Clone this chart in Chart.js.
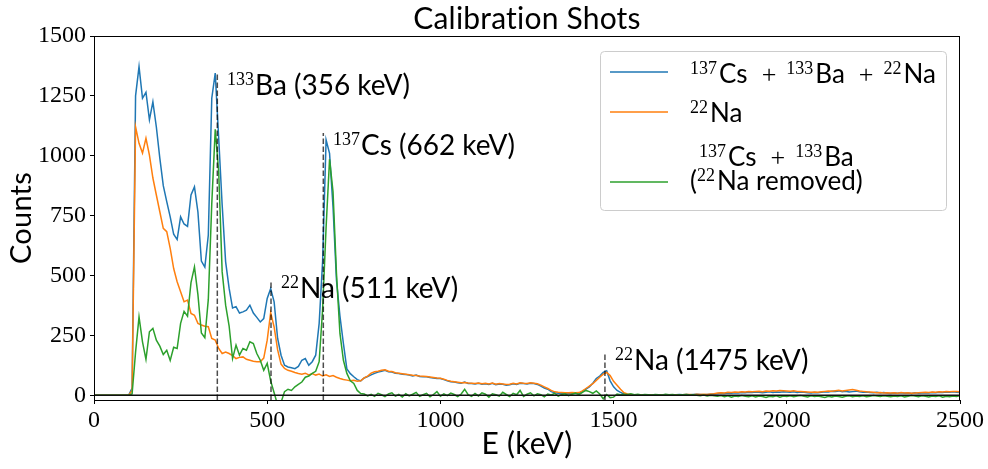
<!DOCTYPE html>
<html>
<head>
<meta charset="utf-8">
<script src="https://cdn.jsdelivr.net/npm/chart.js@4.4.0/dist/chart.umd.min.js"></script>
<style>html,body{margin:0;padding:0;background:#fff}</style>
</head>
<body>
<canvas id="c" width="988" height="469"></canvas>
<script>
// spectrum, 10 keV bins starting at 0 keV
const binWidth = 10;

// 137Cs + 133Ba + 22Na
const mixed = [
  0, 0, 0, 0, 0, 0, 0, 0, 0, 0,
  0, 30, 1250, 1372, 1240, 1265, 1150, 1225, 1120, 990,
  875, 808, 745, 672, 650, 745, 715, 705, 836, 870,
  765, 560, 535, 669, 1240, 1345, 1073, 794, 557, 447,
  364, 370, 343, 348, 355, 376, 343, 325, 306, 320,
  404, 445, 390, 238, 167, 125, 118, 115, 111, 120,
  146, 153, 125, 140, 167, 300, 560, 1066, 1010, 787,
  480, 330, 216, 110, 90, 77, 65, 60, 72, 78,
  85, 91, 97, 100, 104, 98, 97, 92, 91, 88,
  86, 84, 80, 84, 78, 77, 77, 74, 72, 70,
  70, 65, 60, 56, 55, 52, 50, 55, 49, 49,
  47, 50, 46, 48, 45, 50, 44, 47, 46, 42,
  44, 48, 45, 50, 49, 47, 50, 49, 45, 38,
  30, 25, 15, 10, 8, 7, 7, 6, 7, 7,
  7, 15, 25, 35, 50, 70, 80, 95, 102, 60,
  35, 20, 12, 5, 3, 2, 2, 1, 2, 1,
  1, 2, 1, 1, 2, 1, 2, 1, 2, 3,
  2, 3, 2, 3, 4, 3, 2, 3, 4, 5,
  6, 8, 7, 9, 8, 10, 9, 11, 10, 12,
  11, 13, 12, 10, 12, 14, 11, 13, 12, 14,
  13, 12, 14, 11, 13, 12, 10, 9, 11, 10,
  12, 14, 13, 16, 15, 18, 14, 16, 13, 15,
  17, 14, 12, 13, 11, 10, 12, 9, 11, 8,
  7, 9, 8, 10, 8, 9, 7, 10, 8, 9,
  10, 9, 11, 10, 12, 11, 13, 12, 14, 12,
  11
];

// 22Na only
const na22 = [
  0, 0, 0, 0, 0, 0, 0, 0, 0, 0,
  0, 20, 1121, 1052, 1011, 1073, 1003, 907, 836, 766,
  697, 683, 613, 529, 474, 432, 390, 397, 341, 334,
  300, 293, 288, 286, 237, 230, 195, 174, 180, 174,
  165, 153, 158, 160, 150, 146, 142, 140, 140, 155,
  230, 345, 285, 190, 130, 112, 104, 100, 95, 91,
  88, 92, 85, 90, 84, 88, 80, 85, 78, 82,
  75, 70, 66, 63, 60, 62, 58, 60, 72, 80,
  92, 98, 100, 104, 106, 100, 99, 94, 92, 90,
  88, 85, 83, 82, 80, 79, 78, 76, 74, 72,
  71, 67, 62, 58, 56, 54, 52, 53, 51, 50,
  49, 51, 48, 50, 47, 51, 46, 49, 47, 45,
  46, 50, 47, 52, 50, 49, 52, 50, 48, 42,
  35, 28, 20, 14, 12, 11, 10, 10, 11, 10,
  11, 18, 28, 38, 48, 62, 75, 88, 95, 82,
  58, 42, 25, 10, 5, 3, 2, 2, 2, 2,
  2, 1, 2, 2, 1, 2, 2, 1, 2, 2,
  2, 3, 3, 2, 4, 3, 4, 3, 5, 6,
  9, 10, 9, 12, 11, 13, 12, 14, 13, 15,
  14, 16, 17, 15, 18, 17, 19, 18, 20, 19,
  18, 17, 19, 16, 15, 14, 13, 12, 13, 12,
  14, 16, 18, 17, 19, 21, 18, 20, 22, 24,
  21, 18, 16, 14, 13, 12, 10, 11, 9, 10,
  9, 10, 8, 11, 9, 10, 8, 9, 10, 11,
  12, 11, 13, 12, 14, 13, 15, 14, 16, 15,
  14
];

// 137Cs + 133Ba (22Na removed)
const csBa = [
  0, 0, 0, 0, 0, 0, 0, 0, 0, 0,
  0, 5, 180, 327, 223, 150, 265, 279, 230, 205,
  170, 188, 145, 200, 195, 300, 350, 330, 470, 536,
  420, 260, 240, 400, 800, 1110, 933, 515, 376, 290,
  153, 209, 167, 195, 188, 223, 216, 174, 146, 104,
  133, 60, 10, -40, -30, 15, 25, 20, 35, 45,
  55, 75, 80, 91, 100, 140, 360, 700, 985, 850,
  508, 258, 146, 91, 60, 49, 20, 7, 5, -3,
  4, -5, 8, 2, -6, 5, 10, -4, 3, -8,
  6, -3, 4, 12, -5, 2, 8, -7, 3, 15,
  -4, 6, -2, 9, 3, -6, 5, 25, 2, -5,
  7, -3, 10, 4, -8, 6, 2, -4, 12, 3,
  -6, 8, 2, 20, -5, 4, 10, -3, 6, 2,
  -7, 5, 1, 8, -4, 3, 6, -2, 4, 9,
  2, 12, 20, 15, 8, 18, 5, -15, 3, -10,
  -8, 5, 2, 4, 3, 6, 2, 4, 1, 3,
  2, 1, 3, 2, 1, 4, 2, 3, 1, 2,
  2, 3, 1, 2, 0, -2, 1, -3, 0, -2,
  -4, -1, -6, -2, -8, -3, -5, -1, -4, -6,
  -2, -7, -3, -5, -9, -4, -6, -2, -8, -3,
  -5, -2, -6, -3, -1, -4, -7, -2, -5, -3,
  -6, -9, -4, -7, -3, -5, -8, -4, -2, -6,
  -3, -5, -2, -6, -4, -1, -3, -5, -2, -4,
  -6, -3, -5, -2, -7, -4, -1, -3, -6, -2,
  -4, -7, -3, -5, -2, -8, -4, -6, -3, -5,
  -2
];

// marked peaks: energy (keV) and height of the dashed marker
const peakEnergies = [356, 511, 662, 1475];
const peakTops = [1350, 480, 1095, 180];

const xTicks = [0, 500, 1000, 1500, 2000, 2500];
const yTicks = [0, 250, 500, 750, 1000, 1250, 1500];

const SANS = 'Lato, "DejaVu Sans", sans-serif';
const SERIF = '"Liberation Serif", "DejaVu Serif", serif';

function toPoints(arr) {
  return arr.map((v, i) => ({ x: i * binWidth, y: v }));
}

// rich text: {t} normal, {t, sup:true} superscript, {t, serif:true}, {sp:n} spacing
function richWidth(ctx, parts, size, supSize) {
  let w = 0;
  parts.forEach(p => {
    if (p.sp) { w += p.sp; return; }
    ctx.font = p.sup ? supSize + 'px ' + SERIF : size + 'px ' + (p.serif ? SERIF : SANS);
    w += ctx.measureText(p.t).width;
  });
  return w;
}
function richText(ctx, x, y, parts, size, supSize) {
  let cx = x;
  parts.forEach(p => {
    if (p.sp) { cx += p.sp; return; }
    ctx.font = p.sup ? supSize + 'px ' + SERIF : size + 'px ' + (p.serif ? SERIF : SANS);
    ctx.fillText(p.t, cx, p.sup ? y - size * 0.36 : y);
    cx += ctx.measureText(p.t).width;
  });
}

const decor = {
  id: 'decor',
  afterDatasetsDraw(chart) {
    const ctx = chart.ctx;
    const xs = chart.scales.x, ys = chart.scales.y;
    const a = chart.chartArea;
    ctx.save();

    // zero line
    ctx.strokeStyle = '#111';
    ctx.lineWidth = 1.5;
    ctx.beginPath();
    ctx.moveTo(a.left, ys.getPixelForValue(0));
    ctx.lineTo(a.right, ys.getPixelForValue(0));
    ctx.stroke();

    // dashed peak markers
    ctx.strokeStyle = 'rgba(0,0,0,0.7)';
    ctx.lineWidth = 1.5;
    ctx.setLineDash([5.5, 2.5]);
    peakEnergies.forEach((e, i) => {
      const px = xs.getPixelForValue(e);
      ctx.beginPath();
      ctx.moveTo(px, a.bottom);
      ctx.lineTo(px, ys.getPixelForValue(peakTops[i]));
      ctx.stroke();
    });
    ctx.setLineDash([]);

    // frame
    ctx.strokeStyle = '#000';
    ctx.lineWidth = 1;
    ctx.strokeRect(a.left + 0.5, a.top + 0.5, a.right - a.left - 1, a.bottom - a.top);

    // peak labels
    ctx.fillStyle = '#000';
    ctx.textBaseline = 'alphabetic';
    ctx.textAlign = 'left';
    const fs = 28, ss = 18;
    richText(ctx, 227, 95, [{ t: '133', sup: true }, { sp: 1 }, { t: 'Ba (356 keV)' }], fs, ss);
    richText(ctx, 333, 155, [{ t: '137', sup: true }, { sp: 1 }, { t: 'Cs (662 keV)' }], fs, ss);
    richText(ctx, 281, 298, [{ t: '22', sup: true }, { sp: 1 }, { t: 'Na (511 keV)' }], fs, ss);
    richText(ctx, 615, 370, [{ t: '22', sup: true }, { sp: 1 }, { t: 'Na (1475 keV)' }], fs, ss);

    // legend
    ctx.fillStyle = 'rgba(255,255,255,0.8)';
    ctx.strokeStyle = '#cccccc';
    ctx.lineWidth = 1;
    ctx.beginPath();
    ctx.roundRect(600.5, 51.5, 346, 159, 4);
    ctx.fill();
    ctx.stroke();

    const ds = chart.data.datasets;
    const rowsY = [72, 112, 182];
    [0, 1, 2].forEach(i => {
      ctx.strokeStyle = ds[i].borderColor;
      ctx.lineWidth = 1.5;
      ctx.beginPath();
      ctx.moveTo(610, rowsY[i]);
      ctx.lineTo(668, rowsY[i]);
      ctx.stroke();
    });
    ctx.fillStyle = '#000';
    const lf = 26, ls = 18;
    const plus = [{ sp: 14 }, { t: '+', serif: true }, { sp: 10 }];
    richText(ctx, 690, 83, [{ t: '137', sup: true }, { sp: 2 }, { t: 'Cs' }, ...plus,
      { t: '133', sup: true }, { sp: 2 }, { t: 'Ba' }, ...plus, { t: '22', sup: true }, { sp: 2 }, { t: 'Na' }], lf, ls);
    richText(ctx, 690, 122, [{ t: '22', sup: true }, { sp: 2 }, { t: 'Na' }], lf, ls);
    const row3b = [{ t: '(' }, { t: '22', sup: true }, { sp: 2 }, { t: 'Na removed)' }];
    const row3a = [{ t: '137', sup: true }, { sp: 2 }, { t: 'Cs' }, ...plus, { t: '133', sup: true }, { sp: 2 }, { t: 'Ba' }];
    const wb = richWidth(ctx, row3b, lf, ls);
    const wa = richWidth(ctx, row3a, lf, ls);
    richText(ctx, 690 + (wb - wa) / 2, 166, row3a, lf, ls);
    richText(ctx, 690, 190, row3b, lf, ls);

    ctx.restore();
  },
  afterDraw(chart) {
    const ctx = chart.ctx;
    const a = chart.chartArea;
    const cx = (a.left + a.right) / 2;
    ctx.save();
    ctx.fillStyle = '#000';
    ctx.textAlign = 'center';
    ctx.textBaseline = 'alphabetic';
    ctx.letterSpacing = '0.2px'; // keeps "ti" from joining into a ligature
    ctx.font = '30px ' + SANS;
    ctx.fillText('Calibration Shots', cx, 29);
    ctx.font = '30px ' + SANS;
    ctx.fillText('E (keV)', cx, 454);
    ctx.font = '29px ' + SANS;
    ctx.translate(31, (a.top + a.bottom) / 2);
    ctx.rotate(-Math.PI / 2);
    ctx.fillText('Counts', 0, 0);
    ctx.restore();
  }
};

const tickFont = { family: SERIF, size: 24 };

new Chart(document.getElementById('c'), {
  type: 'line',
  data: {
    datasets: [
      { label: '137Cs + 133Ba + 22Na', data: toPoints(mixed), borderColor: '#1f77b4', order: 3 },
      { label: '22Na', data: toPoints(na22), borderColor: '#ff7f0e', order: 2 },
      { label: '137Cs + 133Ba (22Na removed)', data: toPoints(csBa), borderColor: '#2ca02c', order: 1 }
    ]
  },
  options: {
    responsive: false,
    animation: false,
    devicePixelRatio: 1,
    layout: { padding: { left: 0, right: 28, top: 36, bottom: 0 } },
    elements: {
      point: { radius: 0 },
      line: { borderWidth: 1.5, tension: 0, fill: false }
    },
    plugins: { legend: { display: false }, tooltip: { enabled: false } },
    scales: {
      x: {
        type: 'linear', min: 0, max: 2500,
        afterBuildTicks: s => { s.ticks = xTicks.map(v => ({ value: v })); },
        afterFit: s => { s.height = 69; },
        border: { display: false },
        grid: { drawOnChartArea: false, drawTicks: true, tickLength: 4, color: '#000' },
        ticks: { font: tickFont, color: '#000', padding: 2, maxRotation: 0, autoSkip: false, callback: v => String(v) }
      },
      y: {
        min: -20, max: 1500,
        afterBuildTicks: s => { s.ticks = yTicks.map(v => ({ value: v })); },
        afterFit: s => { s.width = 94; },
        border: { display: false },
        grid: { drawOnChartArea: false, drawTicks: true, tickLength: 4, color: '#000' },
        ticks: { font: tickFont, color: '#000', padding: 4, autoSkip: false, callback: v => String(v) }
      }
    }
  },
  plugins: [decor]
});
</script>
</body>
</html>
